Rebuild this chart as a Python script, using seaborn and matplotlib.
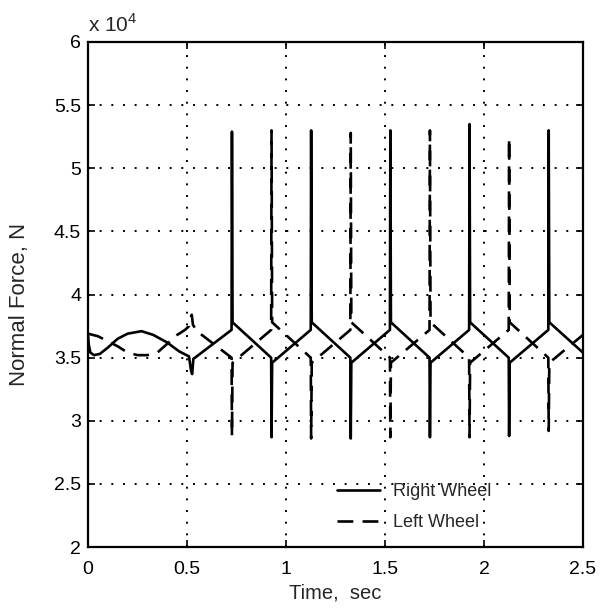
import pandas as pd
import matplotlib
matplotlib.use("Agg")
import matplotlib.pyplot as plt
from matplotlib.ticker import FormatStrFormatter, MultipleLocator
import seaborn as sns

# Normal force in units of 10^4 N, time in seconds
right_t = [0.000, 0.004, 0.012, 0.030, 0.060, 0.100, 0.150, 0.200, 0.270, 0.330,
           0.400, 0.460, 0.510, 0.520, 0.526, 0.532,
           0.725, 0.727, 0.730,
           0.925, 0.927, 0.930,
           1.125, 1.127, 1.130,
           1.325, 1.327, 1.330,
           1.525, 1.527, 1.530,
           1.725, 1.727, 1.730,
           1.925, 1.927, 1.930,
           2.125, 2.127, 2.130,
           2.325, 2.327, 2.330,
           2.500]
right_f = [3.68, 3.60, 3.54, 3.52, 3.53, 3.58, 3.65, 3.69, 3.71, 3.68,
           3.62, 3.55, 3.51, 3.40, 3.37, 3.49,
           3.72, 5.29, 3.78,
           3.50, 2.87, 3.46,
           3.72, 5.30, 3.78,
           3.50, 2.86, 3.46,
           3.72, 5.30, 3.78,
           3.50, 2.87, 3.46,
           3.72, 5.35, 3.78,
           3.50, 2.88, 3.46,
           3.72, 5.30, 3.78,
           3.54]

left_t = [0.000, 0.050, 0.100, 0.150, 0.200, 0.250, 0.300, 0.350, 0.400, 0.450,
          0.490, 0.510, 0.518, 0.524, 0.530, 0.550,
          0.725, 0.727, 0.730,
          0.925, 0.927, 0.930,
          1.125, 1.127, 1.130,
          1.325, 1.327, 1.330,
          1.525, 1.527, 1.530,
          1.725, 1.727, 1.730,
          1.925, 1.927, 1.930,
          2.125, 2.127, 2.130,
          2.325, 2.327, 2.330,
          2.500]
left_f = [3.69, 3.67, 3.63, 3.59, 3.54, 3.52, 3.52, 3.54, 3.61, 3.68,
          3.72, 3.75, 3.82, 3.84, 3.76, 3.71,
          3.50, 2.88, 3.46,
          3.72, 5.30, 3.78,
          3.50, 2.86, 3.46,
          3.72, 5.28, 3.78,
          3.50, 2.87, 3.46,
          3.72, 5.30, 3.78,
          3.50, 2.87, 3.46,
          3.72, 5.24, 3.78,
          3.50, 2.92, 3.46,
          3.68]

series_names = ["Right Wheel", "Left Wheel"]

df = pd.concat([
    pd.DataFrame({"time": right_t, "force": right_f, "wheel": series_names[0]}),
    pd.DataFrame({"time": left_t, "force": left_f, "wheel": series_names[1]}),
], ignore_index=True)

sns.set_style("ticks")
plt.rcParams["font.family"] = ["Liberation Sans", "DejaVu Sans"]
plt.rcParams["mathtext.fontset"] = "custom"
plt.rcParams["mathtext.rm"] = "Liberation Sans"

fig = plt.figure(figsize=(6.13, 6.14), dpi=100)
ax = fig.add_axes([0.1436, 0.109, 0.8074, 0.8226])

sns.lineplot(data=df, x="time", y="force", hue="wheel", style="wheel",
             palette={"Right Wheel": "black", "Left Wheel": "black"},
             dashes={"Right Wheel": "", "Left Wheel": (6, 3.5)},
             estimator=None, sort=False, linewidth=1.9, ax=ax)

ax.set_xlim(0, 2.5)
ax.set_ylim(2, 6)
ax.xaxis.set_major_locator(MultipleLocator(0.5))
ax.yaxis.set_major_locator(MultipleLocator(0.5))
ax.xaxis.set_major_formatter(FormatStrFormatter("%g"))
ax.yaxis.set_major_formatter(FormatStrFormatter("%g"))
ax.grid(True, color="black", linestyle=(0, (1, 5)), linewidth=1.4)
ax.tick_params(direction="in", length=5, width=1.2, labelsize=14, colors="black",
               top=True, right=True)
ax.tick_params(axis="x", pad=10)
ax.tick_params(axis="y", pad=5)
for s in ax.spines.values():
    s.set_visible(True)
    s.set_linewidth(1.6)
    s.set_color("black")

ax.set_xlabel("Time,  sec", fontsize=14.5, labelpad=4)
ax.set_ylabel("Normal Force, N", fontsize=16)
ax.yaxis.set_label_coords(-0.117, 0.48)
ax.text(0.0, 1.012, r"x 10$^{4}$", transform=ax.transAxes, fontsize=15,
        ha="left", va="bottom")

sns.move_legend(ax, loc="lower left", bbox_to_anchor=(0.47, 0.0), frameon=False,
                title=None, fontsize=13, handlelength=2.4, labelspacing=0.75,
                handletextpad=0.7)

fig.savefig("out.png", dpi=100)
